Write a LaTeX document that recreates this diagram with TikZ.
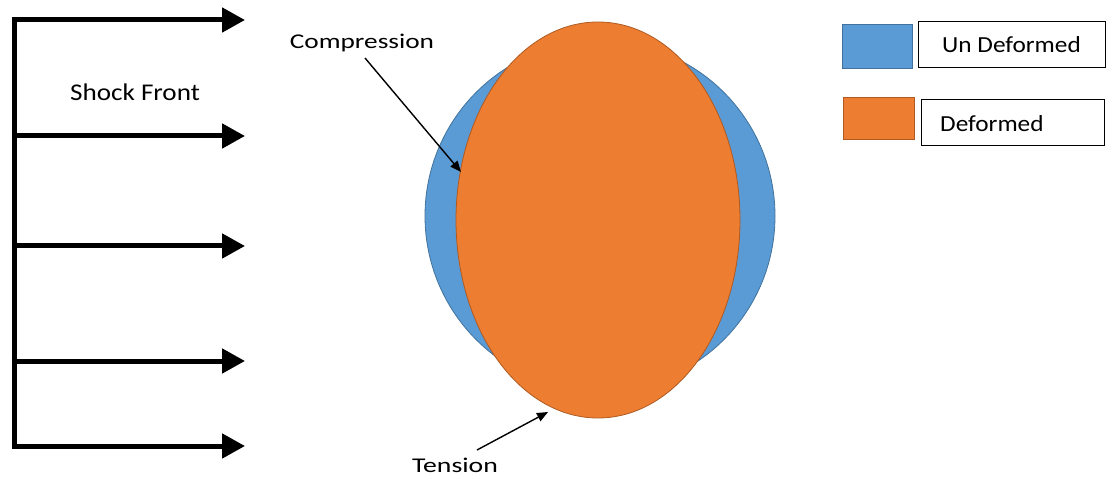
\documentclass[tikz,border=0pt]{standalone}
\usepackage{fontspec}
\setmainfont{Carlito}
\usetikzlibrary{arrows.meta,shapes.geometric}
\definecolor{ublue}{HTML}{5B9BD5}
\definecolor{ubluedk}{HTML}{41719C}
\definecolor{dorange}{HTML}{ED7D31}
\definecolor{dorangedk}{HTML}{AE5A21}
\newcommand{\wide}[2]{\scalebox{#1}[1]{#2}}
\tikzset{
  shockarrow/.style={line width=5pt, -{Triangle[length=23pt,width=24pt]}},
  thinarrow/.style={line width=1.4pt, -{Triangle[length=11pt,width=9pt]}},
  lbl/.style={font=\fontsize{21}{22}\selectfont, inner sep=0pt},
  legtext/.style={draw=black, line width=1pt, minimum height=46pt, inner sep=0pt, font=\fontsize{23}{24}\selectfont},
}
\begin{document}
\begin{tikzpicture}[x=1pt,y=-1pt]
\useasboundingbox (0,0) rectangle (1112,481);
% shock front
\coordinate (top) at (14,17.5);
\coordinate (bot) at (14,448.5);
\draw[line width=5pt] (top) -- (bot);
\foreach \yy/\nm in {20/a1,136/a2,246/a3,361/a4,446/a5}{
  \coordinate (\nm s) at (11.5,\yy);
  \coordinate (\nm e) at (245,\yy);
  \draw[shockarrow] (\nm s) -- (\nm e);
}
\node[lbl, font=\fontsize{24}{26}\selectfont] (shock) at (135,92) {\wide{1.13}{Shock Front}};
% shapes
\node[ellipse, draw=ubluedk, fill=ublue, line width=0.8pt, minimum width=350pt, minimum height=350pt, inner sep=0pt] (undef) at (600,216) {};
\node[ellipse, draw=dorangedk, fill=dorange, line width=0.8pt, minimum width=284pt, minimum height=396pt, inner sep=0pt] (def) at (598,220) {};
% labels
\node[lbl] (comp) at (362,43) {\wide{1.3}{Compression}};
\node[lbl] (tens) at (455,465) {\wide{1.32}{Tension}};
\coordinate (compS) at (365,58);
\coordinate (compE) at (461,172);
\coordinate (tensS) at (477,450);
\coordinate (tensE) at (548,412);
\draw[thinarrow] (compS) -- (compE);
\draw[thinarrow] (tensS) -- (tensE);
% legend
\node[draw=ubluedk, fill=ublue, line width=0.8pt, minimum width=70pt, minimum height=44pt, inner sep=0pt] (lb) at (877,46) {};
\node[legtext, minimum width=187pt] (lbt) at (1011.5,45) {\wide{1.1}{Un Deformed}};
\node[draw=dorangedk, fill=dorange, line width=0.8pt, minimum width=71pt, minimum height=42pt, inner sep=0pt] (lo) at (878.5,118) {};
\node[legtext, minimum width=183pt] (lot) at (1012.5,122.5) {};
\node[font=\fontsize{23}{24}\selectfont, inner sep=0pt, anchor=west] (lott) at (940,124) {\wide{1.1}{Deformed}};
\end{tikzpicture}
\end{document}
